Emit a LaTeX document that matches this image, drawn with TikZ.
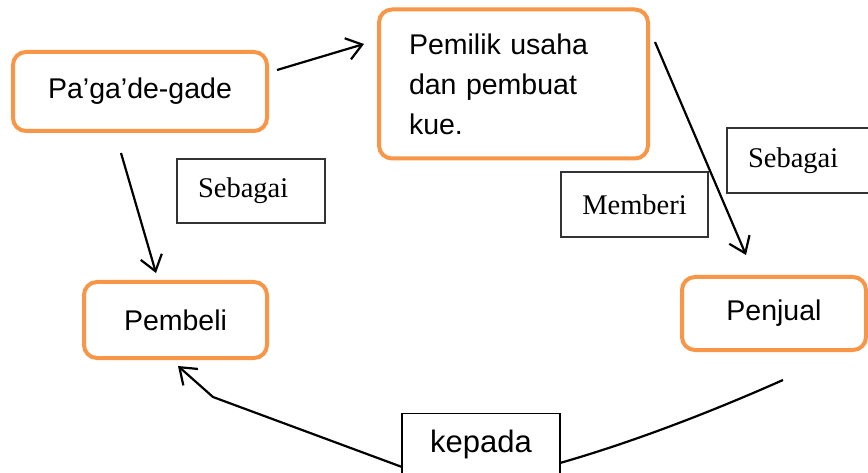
\documentclass[tikz,border=0pt]{standalone}
\usepackage{fontspec}
\setmainfont{Liberation Sans}
\newfontfamily\serifface{Liberation Serif}
\usetikzlibrary{arrows.meta}
\definecolor{boxorange}{HTML}{F79646}
\definecolor{lblline}{HTML}{333333}
\begin{document}
\begin{tikzpicture}[x=1pt,y=-1pt,
  rbox/.style={draw=boxorange, line width=4pt, rounded corners=13pt, fill=white, inner sep=0pt,
    font=\fontsize{28.5}{40}\selectfont},
  lbl/.style={draw=lblline, line width=1.2pt, fill=white, inner sep=0pt,
    font=\serifface\fontsize{28.5}{34}\selectfont, align=left},
  conn/.style={line width=2.2pt, -{Straight Barb[length=15pt,width=22pt,line width=2.2pt]}}]
\useasboundingbox (0,0) rectangle (868,473);
\clip (0,0) rectangle (868,473);
\fill[white] (0,0) rectangle (868,473);

% main boxes
\node[rbox, minimum width=254pt, minimum height=79pt] (pg) at (140,91.5) {Pa’ga’de-gade};
\node[rbox, minimum width=269pt, minimum height=149pt, text width=209pt, align=left] (po) at (513.5,84)
  {Pemilik usaha\\dan pembuat\\kue.};
\node[rbox, minimum width=184pt, minimum height=73pt] (pj) at (774,313.5) {Penjual};
\node[rbox, minimum width=183pt, minimum height=76pt] (pb) at (175.5,320) {Pembeli};

% connector end points
\coordinate (a1s) at (277,70);
\coordinate (a1e) at (364,44);
\coordinate (a2s) at (655,42);
\coordinate (a2e) at (746,255);
\coordinate (a3s) at (121,153);
\coordinate (a3e) at (156,273);
\coordinate (c1) at (783,380);
\coordinate (c2) at (560,463);
\coordinate (c3) at (402,467);
\coordinate (c4) at (213,397);
\coordinate (c5) at (178,366);

% connectors
\draw[conn] (a1s) -- (a1e);
\draw[conn] (a2s) -- (a2e);
\draw[conn] (a3s) -- (a3e);
\draw[conn] (c1) .. controls (720,408) and (640,440) .. (c2)
  .. controls (520,473) and (440,478) .. (c3) -- (c4) -- (c5);

% label boxes
\node[lbl, minimum width=148pt, minimum height=64pt, text width=106pt] (sb1) at (251,191) {Sebagai};
\node[lbl, minimum width=163pt, minimum height=65pt, text width=121pt] (sb2) at (808.5,160.5) {Sebagai};
\node[lbl, minimum width=147pt, minimum height=65pt] (mb) at (634.5,204.5) {Memberi};
\node[draw=black, line width=1.2pt, fill=white, anchor=north, minimum width=158pt, inner ysep=16pt,
  text depth=50pt, font=\fontsize{31}{36}\selectfont] (kp) at (481,413) {kepada};
\end{tikzpicture}
\end{document}
